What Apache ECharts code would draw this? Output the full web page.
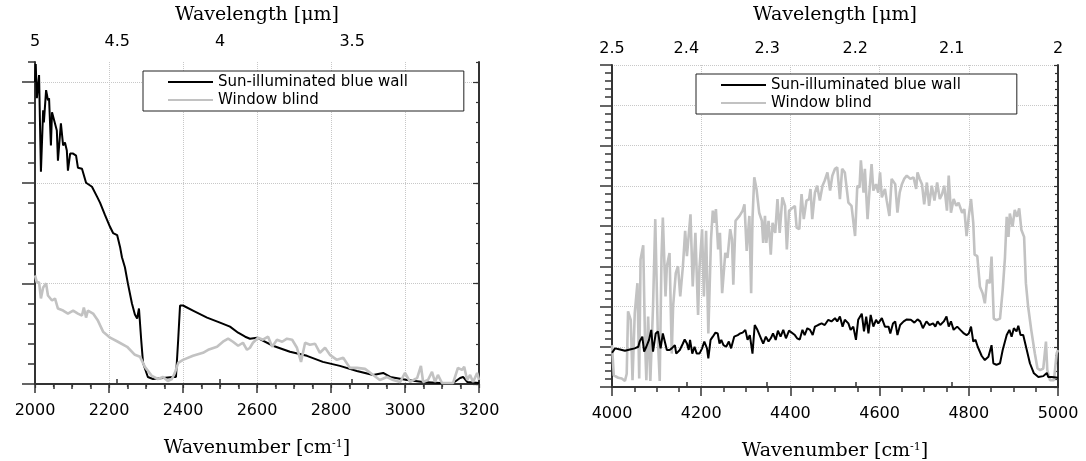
<!DOCTYPE html>
<html>
<head>
<meta charset="utf-8">
<title>Spectra</title>
<script src="https://cdn.jsdelivr.net/npm/echarts@6/dist/echarts.min.js"></script>
<style>
  html, body { margin: 0; padding: 0; background: #fff; }
  #chart { width: 1086px; height: 461px; }
</style>
</head>
<body>
<div id="chart"></div>
<script>
// series names
const wallName = 'Sun-illuminated blue wall'
const blindName = 'Window blind'

// wavelength tick labels (top axes), in micrometres
const leftWavelengths = [5, 4.5, 4, 3.5]
const rightWavelengths = [2.5, 2.4, 2.3, 2.2, 2.1, 2]

// left panel, [wavenumber, value]
const leftWall = [
  [2000, 3.0], [2002, 3.18], [2005, 2.84], [2011, 3.07], [2016, 2.11], [2022, 2.72], [2024, 2.6],
  [2030, 2.92], [2035, 2.82], [2038, 2.84], [2043, 2.37], [2046, 2.70], [2051, 2.69], [2059, 2.52],
  [2062, 2.22], [2070, 2.59], [2076, 2.37], [2081, 2.40], [2086, 2.32], [2089, 2.12], [2095, 2.29],
  [2103, 2.29], [2111, 2.27], [2116, 2.15], [2127, 2.14], [2132, 2.15], [2138, 2.0], [2143, 2.01],
  [2154, 1.96], [2168, 1.86], [2176, 1.80], [2189, 1.68], [2203, 1.56], [2211, 1.50], [2222, 1.48],
  [2230, 1.36], [2235, 1.26], [2243, 1.16], [2251, 1.0], [2262, 0.80], [2270, 0.69], [2276, 0.65],
  [2281, 0.75], [2287, 0.44], [2292, 0.21], [2305, 0.07], [2319, 0.05], [2346, 0.06], [2373, 0.07],
  [2381, 0.07], [2387, 0.44], [2392, 0.78], [2400, 0.78], [2427, 0.73], [2465, 0.66], [2500, 0.61],
  [2527, 0.57], [2549, 0.51], [2568, 0.47], [2581, 0.45], [2600, 0.46], [2643, 0.38], [2689, 0.32],
  [2735, 0.28], [2778, 0.22], [2824, 0.18], [2870, 0.13], [2914, 0.09], [2941, 0.11], [2960, 0.07],
  [3006, 0.04], [3049, 0.02], [3095, 0.01], [3130, 0.01], [3149, 0.06], [3157, 0.07], [3168, 0.02],
  [3200, 0.01]
]
const leftBlind = [
  [2000, 1.08], [2005, 1.01], [2011, 1.01], [2016, 0.85], [2022, 0.96], [2030, 1.0], [2035, 0.88],
  [2046, 0.83], [2054, 0.85], [2062, 0.75], [2076, 0.73], [2089, 0.70], [2103, 0.73], [2116, 0.70],
  [2127, 0.68], [2132, 0.76], [2138, 0.66], [2143, 0.73], [2157, 0.70], [2170, 0.63], [2184, 0.52],
  [2203, 0.46], [2224, 0.42], [2249, 0.37], [2270, 0.29], [2284, 0.27], [2297, 0.17], [2316, 0.08],
  [2332, 0.05], [2346, 0.07], [2359, 0.03], [2370, 0.05], [2378, 0.11], [2387, 0.21], [2400, 0.24],
  [2427, 0.28], [2454, 0.31], [2468, 0.34], [2492, 0.37], [2508, 0.42], [2522, 0.45], [2535, 0.42],
  [2549, 0.38], [2562, 0.41], [2573, 0.34], [2581, 0.36], [2589, 0.41], [2603, 0.46], [2616, 0.44],
  [2630, 0.47], [2641, 0.37], [2654, 0.44], [2668, 0.42], [2681, 0.45], [2695, 0.44], [2708, 0.36],
  [2719, 0.22], [2730, 0.41], [2743, 0.39], [2757, 0.40], [2770, 0.31], [2784, 0.36], [2797, 0.29],
  [2816, 0.24], [2833, 0.26], [2851, 0.16], [2870, 0.16], [2892, 0.15], [2914, 0.09], [2932, 0.04],
  [2951, 0.07], [2968, 0.04], [2987, 0.02], [3000, 0.11], [3014, 0.02], [3033, 0.06], [3043, 0.18],
  [3049, 0.02], [3062, 0.04], [3073, 0.12], [3081, 0.02], [3089, 0.09], [3100, 0.01], [3130, 0.01],
  [3143, 0.16], [3154, 0.14], [3160, 0.17], [3168, 0.04], [3176, 0.09], [3184, 0.02], [3195, 0.11],
  [3200, 0.04]
]

// right panel, [wavenumber, value]
const rightWall = [
  [4000, 0.85], [4007, 0.96], [4018, 0.93], [4029, 0.90], [4040, 0.93], [4051, 0.96], [4059, 1.0],
  [4062, 1.13], [4068, 1.25], [4072, 0.88], [4077, 1.0], [4083, 1.17], [4088, 1.42], [4092, 0.88],
  [4098, 1.33], [4103, 1.38], [4109, 0.96], [4114, 1.33], [4118, 1.35], [4123, 0.92], [4129, 0.92],
  [4134, 0.96], [4141, 1.04], [4144, 0.83], [4152, 0.92], [4159, 1.08], [4163, 1.18], [4168, 1.08],
  [4172, 0.92], [4175, 1.17], [4180, 0.83], [4185, 1.0], [4190, 0.83], [4196, 0.83], [4202, 0.96],
  [4207, 1.13], [4213, 0.96], [4216, 0.71], [4221, 1.17], [4226, 1.25], [4232, 1.35], [4237, 1.33],
  [4241, 1.08], [4245, 1.17], [4250, 1.04], [4256, 1.0], [4262, 1.13], [4267, 0.96], [4274, 1.25],
  [4282, 1.29], [4287, 1.33], [4293, 1.35], [4299, 1.42], [4304, 1.17], [4309, 1.29], [4315, 0.83],
  [4320, 1.54], [4326, 1.42], [4334, 1.21], [4339, 1.08], [4345, 1.25], [4351, 1.13], [4356, 1.21],
  [4361, 1.33], [4367, 1.17], [4372, 1.4], [4378, 1.25], [4384, 1.42], [4390, 1.21], [4397, 1.4],
  [4410, 1.29], [4415, 1.21], [4421, 1.18], [4427, 1.42], [4432, 1.29], [4438, 1.46], [4444, 1.42],
  [4450, 1.29], [4455, 1.5], [4462, 1.54], [4470, 1.58], [4477, 1.54], [4485, 1.67], [4492, 1.63],
  [4500, 1.71], [4505, 1.63], [4511, 1.75], [4517, 1.5], [4522, 1.67], [4530, 1.58], [4535, 1.42],
  [4541, 1.5], [4547, 1.17], [4552, 1.67], [4560, 1.82], [4565, 1.38], [4570, 1.75], [4575, 1.33],
  [4580, 1.79], [4586, 1.5], [4592, 1.67], [4597, 1.58], [4605, 1.71], [4612, 1.5], [4620, 1.5],
  [4624, 1.33], [4630, 1.58], [4635, 1.63], [4640, 1.29], [4646, 1.54], [4654, 1.63], [4661, 1.68],
  [4670, 1.67], [4678, 1.6], [4685, 1.68], [4691, 1.63], [4697, 1.46], [4705, 1.63], [4712, 1.54],
  [4720, 1.58], [4725, 1.5], [4730, 1.63], [4736, 1.54], [4744, 1.63], [4750, 1.75], [4755, 1.5],
  [4760, 1.63], [4766, 1.42], [4774, 1.5], [4781, 1.42], [4789, 1.33], [4795, 1.29], [4800, 1.33],
  [4805, 1.5], [4810, 1.13], [4815, 1.17], [4820, 1.0], [4829, 0.77], [4836, 0.67], [4844, 0.75],
  [4851, 1.04], [4855, 0.59], [4862, 0.55], [4870, 0.59], [4876, 0.92], [4885, 1.29], [4891, 1.42],
  [4896, 1.25], [4901, 1.46], [4907, 1.38], [4911, 1.52], [4916, 1.29], [4922, 1.29], [4930, 0.92],
  [4937, 0.59], [4946, 0.34], [4956, 0.25], [4967, 0.27], [4975, 0.35], [4978, 0.25], [4986, 0.25],
  [5000, 0.23]
]
const rightBlind = [
  [4000, 1.04], [4004, 0.29], [4014, 0.23], [4022, 0.21], [4029, 0.15], [4033, 0.33], [4036, 1.88],
  [4042, 1.67], [4046, 0.17], [4051, 1.83], [4057, 2.58], [4061, 0.21], [4064, 3.17], [4070, 3.52],
  [4074, 1.17], [4077, 0.17], [4081, 1.75], [4086, 0.15], [4092, 2.0], [4097, 4.17], [4103, 1.17],
  [4107, 0.15], [4111, 3.25], [4114, 4.21], [4120, 2.25], [4123, 3.0], [4129, 3.33], [4134, 0.83],
  [4137, 2.0], [4143, 2.83], [4148, 3.0], [4153, 2.25], [4159, 3.0], [4164, 3.88], [4168, 3.25],
  [4176, 4.29], [4181, 2.5], [4187, 3.83], [4193, 1.79], [4196, 2.92], [4202, 3.92], [4206, 2.25],
  [4211, 3.88], [4216, 1.33], [4222, 3.67], [4226, 4.38], [4230, 4.08], [4233, 4.42], [4238, 3.42],
  [4242, 3.83], [4247, 2.33], [4250, 2.29], [4254, 3.33], [4259, 3.21], [4265, 3.92], [4269, 3.67],
  [4272, 2.54], [4277, 4.13], [4286, 4.25], [4293, 4.38], [4297, 4.54], [4302, 3.38], [4308, 4.25],
  [4312, 2.33], [4315, 4.17], [4319, 5.21], [4324, 4.92], [4330, 4.33], [4336, 4.13], [4339, 3.58],
  [4343, 4.25], [4346, 3.58], [4351, 4.13], [4356, 3.29], [4360, 4.08], [4366, 3.83], [4371, 4.67],
  [4376, 3.83], [4382, 4.71], [4388, 4.5], [4392, 3.42], [4397, 4.38], [4410, 4.5], [4414, 3.96],
  [4420, 3.92], [4425, 4.79], [4430, 4.17], [4436, 4.63], [4442, 4.67], [4445, 4.92], [4449, 4.17],
  [4455, 4.83], [4460, 5.0], [4466, 4.63], [4472, 5.0], [4477, 5.13], [4483, 5.33], [4489, 4.88],
  [4494, 5.25], [4500, 5.42], [4505, 5.46], [4511, 4.67], [4516, 5.42], [4522, 5.33], [4530, 4.58],
  [4537, 4.5], [4545, 3.75], [4550, 5.0], [4555, 4.96], [4558, 5.63], [4564, 4.83], [4567, 5.42],
  [4573, 4.17], [4577, 4.83], [4582, 5.54], [4586, 4.88], [4592, 5.04], [4597, 4.83], [4601, 5.33],
  [4605, 4.71], [4612, 4.92], [4616, 4.63], [4622, 4.25], [4627, 5.17], [4635, 5.04], [4640, 4.33],
  [4645, 4.83], [4650, 5.04], [4655, 5.17], [4661, 5.25], [4669, 5.17], [4676, 5.21], [4682, 4.92],
  [4685, 5.33], [4690, 5.17], [4695, 5.04], [4700, 4.54], [4706, 5.08], [4711, 4.5], [4717, 5.0],
  [4723, 4.63], [4729, 5.08], [4735, 4.67], [4740, 4.79], [4745, 5.0], [4751, 4.38], [4755, 5.25],
  [4760, 4.33], [4766, 4.67], [4772, 4.5], [4777, 4.58], [4785, 4.33], [4790, 4.42], [4795, 3.75],
  [4800, 4.25], [4805, 4.67], [4810, 4.08], [4813, 3.29], [4819, 3.25], [4825, 2.49], [4831, 2.33],
  [4836, 2.08], [4841, 2.66], [4847, 2.58], [4851, 3.24], [4856, 1.70], [4862, 1.66], [4870, 1.70],
  [4876, 2.41], [4881, 3.2], [4885, 4.23], [4889, 3.73], [4892, 4.31], [4898, 3.98], [4903, 4.40],
  [4908, 4.23], [4913, 4.44], [4918, 3.90], [4924, 3.73], [4928, 2.58], [4933, 2.0], [4940, 1.42],
  [4948, 0.84], [4954, 0.46], [4960, 0.42], [4967, 0.46], [4973, 1.13], [4976, 0.42], [4982, 0.17],
  [4991, 0.17], [4997, 0.84], [5000, 0.92]
]

const chart = echarts.init(document.getElementById('chart'), null, { renderer: 'canvas' })

const axisColor = '#333'
const tickFont = { fontFamily: 'DejaVu Sans', fontSize: 16, color: '#000' }
const titleFont = {
  fontFamily: 'DejaVu Serif', fontSize: 19, color: '#000',
  rich: { sup: { fontFamily: 'DejaVu Serif', fontSize: 11, color: '#000', verticalAlign: 'top' } }
}
const gridLine = { show: true, lineStyle: { color: '#c8c8c8', type: 'dotted', width: 1 } }
const noLine = { show: false }

// bottom wavenumber axis
function bottomAxis(grid, min, max) {
  return {
    type: 'value', gridIndex: grid, position: 'bottom', min: min, max: max, interval: 200,
    name: 'Wavenumber [cm{sup|-1}]', nameLocation: 'middle', nameGap: 55, nameTextStyle: titleFont,
    axisLine: { show: true, lineStyle: { color: axisColor, width: 2 } },
    axisTick: { show: true, length: 9, lineStyle: { color: axisColor, width: 1.5 } },
    minorTick: { show: true, splitNumber: 4, length: 5, lineStyle: { color: axisColor, width: 1.5 } },
    axisLabel: Object.assign({ margin: 19, formatter: v => String(v) }, tickFont),
    splitLine: gridLine
  }
}

// top wavelength axis (ticks placed at 1e4 / lambda on the wavenumber scale)
function wavelengthAxis(grid, min, max, lambdas, showLine, gap, margin) {
  const pos = lambdas.map(l => 1e4 / l)
  return {
    type: 'value', gridIndex: grid, position: 'top', min: min, max: max,
    name: 'Wavelength [\u03bcm]', nameLocation: 'middle', nameGap: gap, nameTextStyle: titleFont,
    axisLine: { show: showLine, lineStyle: { color: axisColor, width: 2 } },
    axisTick: { show: true, customValues: pos, length: 5, lineStyle: { color: axisColor, width: 1.5 } },
    axisLabel: Object.assign({
      margin: margin, customValues: pos,
      formatter: v => String(+(1e4 / v).toFixed(2))
    }, tickFont),
    splitLine: noLine
  }
}

const xAxes = [
  bottomAxis(0, 2000, 3200),
  // mirrored inner ticks along the top edge of the left panel
  {
    type: 'value', gridIndex: 0, position: 'top', min: 2000, max: 3200, interval: 200,
    axisLine: { show: true, lineStyle: { color: axisColor, width: 2 } },
    axisTick: { show: true, inside: true, length: 4, lineStyle: { color: axisColor, width: 1.2 } },
    minorTick: { show: true, splitNumber: 4, length: 3, lineStyle: { color: axisColor, width: 1.2 } },
    axisLabel: { show: false }, splitLine: noLine
  },
  wavelengthAxis(0, 2000, 3200, leftWavelengths, false, 37, 12),
  bottomAxis(1, 4000, 5000),
  wavelengthAxis(1, 4000, 5000, rightWavelengths, true, 40, 8)
]

const yAxes = [
  // left panel
  {
    type: 'value', gridIndex: 0, position: 'left', min: 0, max: 3.2, interval: 1,
    axisLine: { show: true, lineStyle: { color: axisColor, width: 2 } },
    axisTick: { show: true, customValues: [0, 1, 2, 3], length: 13, lineStyle: { color: axisColor, width: 1.5 } },
    axisLabel: { show: false }, splitLine: gridLine
  },
  {
    type: 'value', gridIndex: 0, position: 'left', min: 0, max: 3.2, interval: 0.2,
    axisLine: noLine,
    axisTick: { show: true, length: 7, lineStyle: { color: axisColor, width: 1.5 } },
    axisLabel: { show: false }, splitLine: noLine
  },
  {
    type: 'value', gridIndex: 0, position: 'right', min: 0, max: 3.2, interval: 0.2,
    axisLine: { show: true, lineStyle: { color: axisColor, width: 2 } },
    axisTick: { show: true, inside: true, length: 3, lineStyle: { color: axisColor, width: 1.2 } },
    axisLabel: { show: false }, splitLine: noLine
  },
  {
    type: 'value', gridIndex: 0, position: 'right', min: 0, max: 3.2, interval: 1,
    axisLine: noLine,
    axisTick: { show: true, inside: true, customValues: [0, 1, 2, 3], length: 6, lineStyle: { color: axisColor, width: 1.2 } },
    axisLabel: { show: false }, splitLine: noLine
  },
  // right panel
  {
    type: 'value', gridIndex: 1, position: 'left', min: 0, max: 8, interval: 1,
    axisLine: { show: true, lineStyle: { color: axisColor, width: 2 } },
    axisTick: { show: true, length: 12, lineStyle: { color: axisColor, width: 1.5 } },
    minorTick: { show: true, splitNumber: 5, length: 7, lineStyle: { color: axisColor, width: 1.5 } },
    axisLabel: { show: false }, splitLine: gridLine
  },
  {
    type: 'value', gridIndex: 1, position: 'right', min: 0, max: 8, interval: 1,
    axisLine: { show: true, lineStyle: { color: axisColor, width: 2 } },
    axisTick: { show: true, inside: true, length: 4, lineStyle: { color: axisColor, width: 1.2 } },
    minorTick: { show: true, splitNumber: 5, length: 3, lineStyle: { color: axisColor, width: 1.2 } },
    axisLabel: { show: false }, splitLine: noLine
  }
]

function lineSeries(name, data, xi, yi, color, width, z) {
  return {
    name: name, type: 'line', data: data, xAxisIndex: xi, yAxisIndex: yi,
    symbol: 'none', showSymbol: false, z: z,
    lineStyle: { color: color, width: width }, itemStyle: { color: color }
  }
}

// legend sample drawn as a thin bar so it reads as a line
const legendBase = {
  orient: 'vertical', icon: 'rect', itemWidth: 45, itemHeight: 2, itemGap: 2,
  backgroundColor: '#fff', borderColor: '#222', borderWidth: 1, borderRadius: 0,
  textStyle: { fontFamily: 'DejaVu Sans', fontSize: 15, lineHeight: 16, color: '#000' },
  data: [wallName, blindName], selectedMode: false
}

const option = {
  animation: false,
  backgroundColor: '#fff',
  grid: [
    { left: 35, top: 62, width: 444, height: 322, outerBoundsMode: 'none' },
    { left: 612, top: 65, width: 446, height: 322, outerBoundsMode: 'none' }
  ],
  legend: [
    Object.assign({ left: 143, top: 71, padding: [3, 56, 3, 25] }, legendBase),
    Object.assign({ left: 696, top: 74, padding: [3, 56, 3, 25] }, legendBase)
  ],
  xAxis: xAxes,
  yAxis: yAxes,
  series: [
    lineSeries(wallName, leftWall, 0, 0, '#000', 2, 3),
    lineSeries(blindName, leftBlind, 0, 0, '#c2c2c2', 2.6, 4),
    lineSeries(blindName, rightBlind, 3, 4, '#c2c2c2', 2.6, 3),
    lineSeries(wallName, rightWall, 3, 4, '#000', 2, 4)
  ]
}

chart.setOption(option)
</script>
</body>
</html>
